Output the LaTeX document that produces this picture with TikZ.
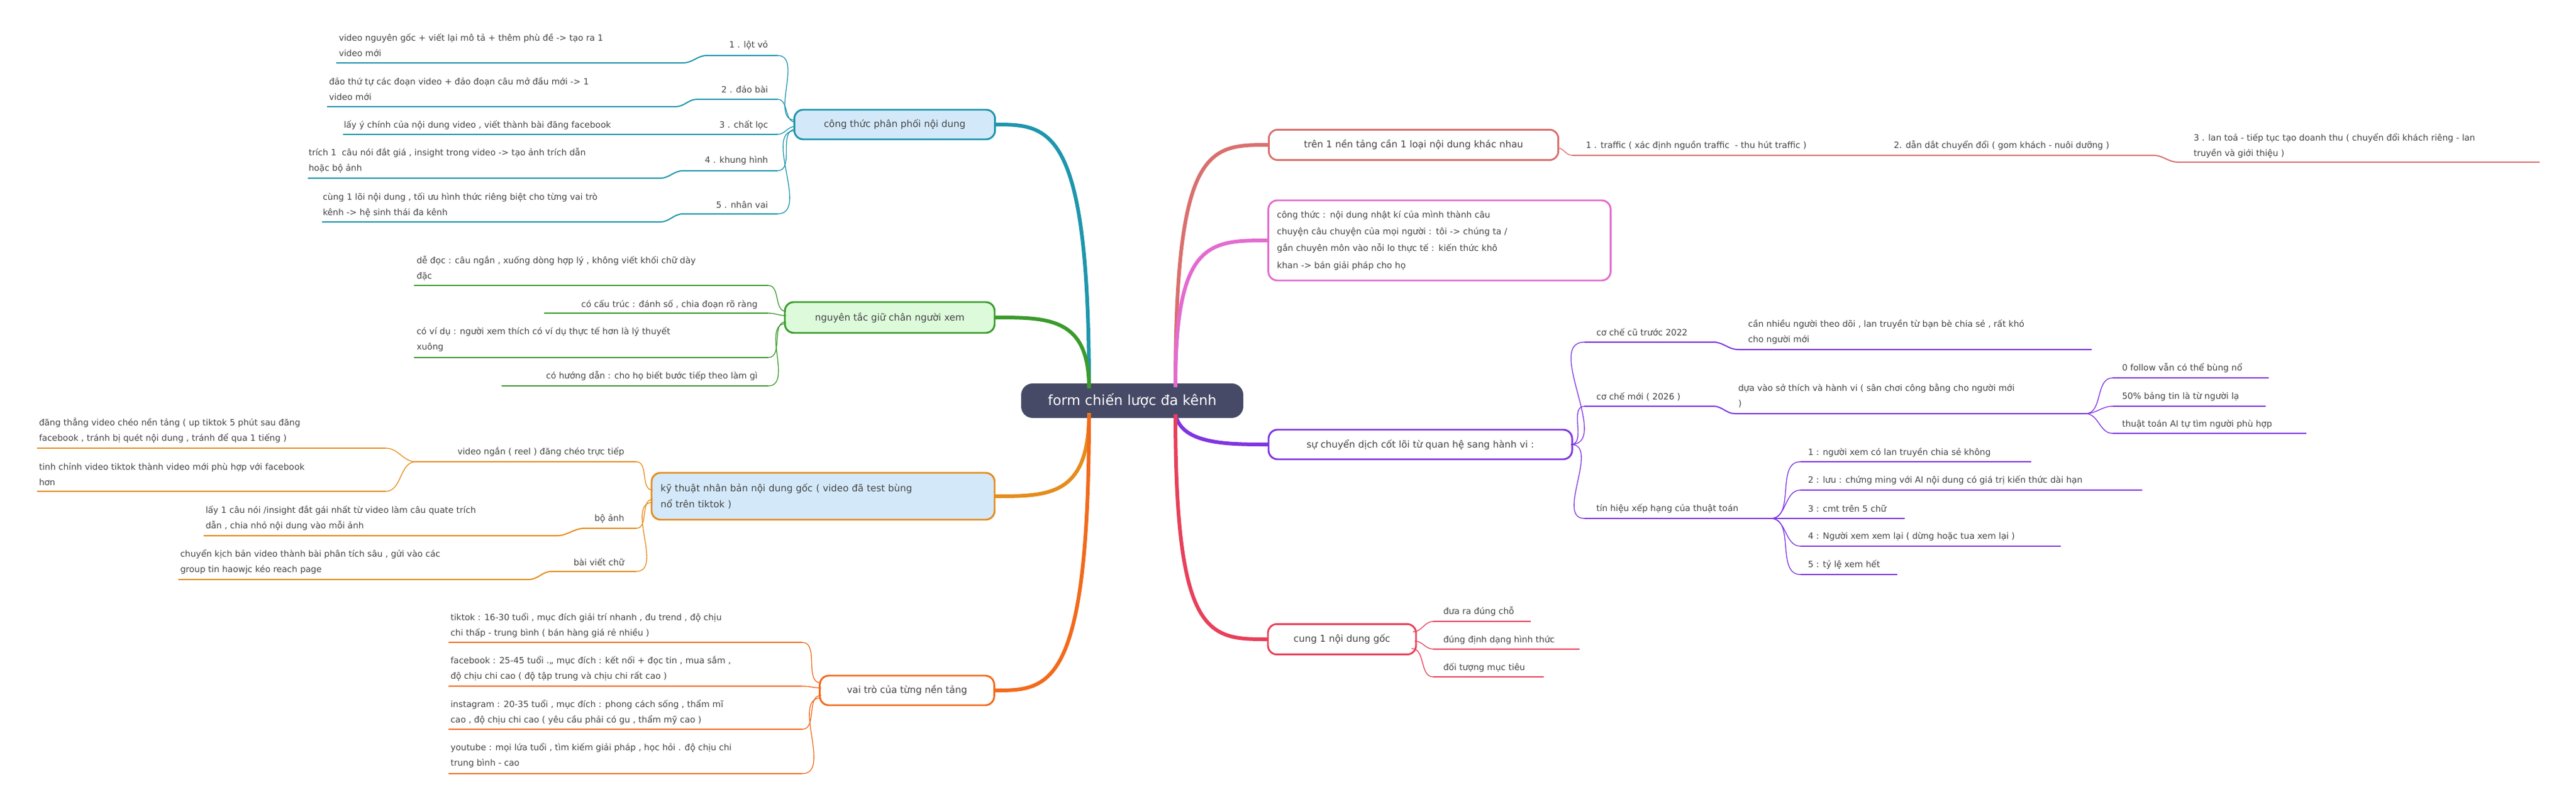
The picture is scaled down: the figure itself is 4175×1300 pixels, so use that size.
\documentclass[tikz,border=0pt]{standalone}
\usepackage{fontspec}
\setmainfont{DejaVu Sans}
\definecolor{txt}{HTML}{444444}
\definecolor{ctr}{HTML}{474A66}
\definecolor{teal}{HTML}{1E96AC}
\definecolor{grn}{HTML}{3B9B2C}
\definecolor{org}{HTML}{E58C1C}
\definecolor{ored}{HTML}{F26A1C}
\definecolor{salm}{HTML}{D9706E}
\definecolor{pink}{HTML}{E36BD0}
\definecolor{purp}{HTML}{7F35E0}
\definecolor{red1}{HTML}{E8405A}
\definecolor{lblue}{HTML}{D3E9FA}
\definecolor{lgrn}{HTML}{DDFBDB}
\begin{document}
\begin{tikzpicture}[x=0.75pt,y=-0.75pt,
 lf/.style={inner sep=0pt,text=txt,align=left,font=\fontsize{10.5}{18.75}\selectfont},
 box/.style={draw,line width=2.2pt,rounded corners=11pt,text=txt,font=\fontsize{11.5}{19}\selectfont,inner sep=0pt,align=left},
 mc/.style={line width=4.5pt},
 ul/.style={line width=1.5pt},
 cv/.style={line width=1pt}]
\useasboundingbox (0,0) rectangle (4175,1300);
% central
\node[fill=ctr,rounded corners=14pt,minimum width=270pt,minimum height=42pt,text=white,font=\fontsize{17}{20}\selectfont,inner sep=0pt] (c) at (1835,650) {form chiến lược đa kênh};
% main connectors
\draw[mc,teal] (1765,628) .. controls (1765,202) and (1700,202) .. (1612,202);
\draw[mc,grn] (1765,630) .. controls (1765,515) and (1700,515) .. (1612,515);
\draw[mc,org] (1765,670) .. controls (1765,805) and (1700,805) .. (1612,805);
\draw[mc,ored] (1765,672) .. controls (1765,1120) and (1700,1120) .. (1612,1120);
\draw[mc,salm] (1905,628) .. controls (1905,235) and (1960,235) .. (2056,235);
\draw[mc,pink] (1905,628) .. controls (1905,390) and (1960,390) .. (2056,390);
\draw[mc,purp] (1905,672) .. controls (1915,721) and (1990,721) .. (2056,721);
\draw[mc,red1] (1905,672) .. controls (1905,1037) and (1960,1037) .. (2055,1037);
% boxes
\node[box,draw=teal,fill=lblue,minimum width=244pt,minimum height=36pt,align=center] (b1) at (1450,202) {công thức phân phối nội dung};
\node[box,draw=grn,fill=lgrn,minimum width=255pt,minimum height=37.5pt,align=center] (b2) at (1442,515) {nguyên tắc giữ chân người xem};
\node[box,draw=org,fill=lblue,minimum width=417pt,minimum height=57pt,text width=395pt] (b3) at (1334,805) {kỹ thuật nhân bản nội dung gốc ( video đã test bùng\\nổ trên tiktok )};
\node[box,draw=ored,fill=white,minimum width=212pt,minimum height=36pt,align=center] (b4) at (1470,1120) {vai trò của từng nền tảng};
\node[box,draw=salm,fill=white,minimum width=352pt,minimum height=37pt,align=center] (b5) at (2291,235) {trên 1 nền tảng cần 1 loại nội dung khác nhau};
\node[box,draw=pink,fill=white,minimum width=416pt,minimum height=97.5pt,text width=395pt,font=\fontsize{10.5}{20.5}\selectfont] (b6) at (2333,390) {công thức : nội dung nhật kí của mình thành câu\\chuyện câu chuyện của mọi người : tôi -> chúng ta /\\gắn chuyên môn vào nỗi lo thực tế : kiến thức khô\\khan -> bán giải pháp cho họ};
\node[box,draw=purp,fill=white,minimum width=369pt,minimum height=36pt,align=center] (b7) at (2302,721) {sự chuyển dịch cốt lõi từ quan hệ sang hành vi :};
\node[box,draw=red1,fill=white,minimum width=180pt,minimum height=37pt,align=center] (b8) at (2175,1037) {cung 1 nội dung gốc};

% ---- teal branch
\begin{scope}[teal]
\draw[cv] (1260,90) to[out=0,in=180] (1289,195);
\draw[cv] (1260,161) to[out=0,in=180] (1289,198);
\draw[cv] (1260,218) to[out=0,in=180] (1289,205);
\draw[cv] (1260,277) to[out=0,in=180] (1289,210);
\draw[cv] (1260,347) to[out=0,in=180] (1289,212);
\draw[ul] (1260,90) -- (1146,90) to[out=180,in=0] (1107,102) -- (545,102);
\draw[ul] (1260,161) -- (1130,161) to[out=180,in=0] (1095,173) -- (530,173);
\draw[ul] (1260,218) -- (556,218);
\draw[ul] (1260,277) -- (1107,277) to[out=180,in=0] (1070,289) -- (499,289);
\draw[ul] (1260,347) -- (1107,347) to[out=180,in=0] (1070,360) -- (522,360);
\end{scope}
\node[lf,anchor=east] (t1) at (1245,73) {1 . lột vỏ};
\node[lf,anchor=west] (t1a) at (549,73.5) {video nguyên gốc + viết lại mô tả + thêm phù đề -> tạo ra 1\\video mới};
\node[lf,anchor=east] (t2) at (1245,145) {2 . đảo bài};
\node[lf,anchor=west] (t2a) at (533,144.5) {đảo thứ tự các đoạn video + đảo đoạn câu mở đầu mới -> 1\\video mới};
\node[lf,anchor=east] (t3) at (1245,203) {3 . chất lọc};
\node[lf,anchor=west] (t3a) at (557,203) {lấy ý chính của nội dung video , viết thành bài đăng facebook};
\node[lf,anchor=east] (t4) at (1245,260) {4 . khung hình};
\node[lf,anchor=west] (t4a) at (500,260.5) {trích 1\ \ câu nói đắt giá , insight trong video -> tạo ảnh trích dẫn\\hoặc bộ ảnh};
\node[lf,anchor=east] (t5) at (1245,332) {5 . nhân vai};
\node[lf,anchor=west] (t5a) at (523,332.5) {cùng 1 lõi nội dung , tối ưu hình thức riêng biệt cho từng vai trò\\kênh -> hệ sinh thái đa kênh};

% ---- green branch
\begin{scope}[grn]
\draw[cv] (1245,463) to[out=0,in=180] (1274,505);
\draw[cv] (1245,508) to[out=0,in=180] (1274,512);
\draw[cv] (1245,580) to[out=0,in=180] (1274,522);
\draw[cv] (1245,626) to[out=0,in=180] (1274,525);
\draw[ul] (1245,463) -- (671,463);
\draw[ul] (1245,508) -- (882,508);
\draw[ul] (1245,580) -- (671,580);
\draw[ul] (1245,626) -- (813,626);
\end{scope}
\node[lf,anchor=west] (g1) at (675,435) {dễ đọc : câu ngắn , xuống dòng hợp lý , không viết khối chữ dày\\đặc};
\node[lf,anchor=east] (g2) at (1228,494) {có cấu trúc : đánh số , chia đoạn rõ ràng};
\node[lf,anchor=west] (g3) at (675,551) {có ví dụ : người xem thích có ví dụ thực tế hơn là lý thuyết\\xuông};
\node[lf,anchor=east] (g4) at (1228,610) {có hướng dẫn : cho họ biết bước tiếp theo làm gì};

% ---- orange branch
\begin{scope}[org]
\draw[cv] (1031,749) to[out=0,in=180] (1058,795);
\draw[cv] (1031,857) to[out=0,in=180] (1058,810);
\draw[cv] (1031,927) to[out=0,in=180] (1058,815);
\draw[ul] (1031,749) -- (674,749);
\draw[cv] (674,749) to[out=180,in=0] (625,727);
\draw[cv] (674,749) to[out=180,in=0] (625,797);
\draw[ul] (625,727) -- (60,727);
\draw[ul] (625,797) -- (60,797);
\draw[ul] (1031,857) -- (948,857) to[out=180,in=0] (902,869) -- (330,869);
\draw[ul] (1031,927) -- (894,927) to[out=180,in=0] (857,940) -- (289,940);
\end{scope}
\node[lf,anchor=east] (o1) at (1012,733) {video ngắn ( reel ) đăng chéo trực tiếp};
\node[lf,anchor=west] (o1a) at (63,698.5) {đăng thẳng video chéo nền tảng ( up tiktok 5 phút sau đăng\\facebook , tránh bị quét nội dung , tránh để qua 1 tiếng )};
\node[lf,anchor=west] (o1b) at (63,769.5) {tinh chỉnh video tiktok thành video mới phù hợp với facebook\\hơn};
\node[lf,anchor=east] (o2) at (1012,841) {bộ ảnh};
\node[lf,anchor=west] (o2a) at (333,840.5) {lấy 1 câu nói /insight đắt gái nhất từ video làm câu quate trích\\dẫn , chia nhỏ nội dung vào mỗi ảnh};
\node[lf,anchor=east] (o3) at (1012,912) {bài viết chữ};
\node[lf,anchor=west] (o3a) at (292,911.5) {chuyển kịch bản video thành bài phân tích sâu , gửi vào các\\group tin haowjc kéo reach page};

% ---- vai tro branch
\begin{scope}[ored]
\draw[cv] (1300,1042) to[out=0,in=180] (1331,1108);
\draw[cv] (1300,1113) to[out=0,in=180] (1331,1116);
\draw[cv] (1300,1183) to[out=0,in=180] (1331,1128);
\draw[cv] (1300,1255) to[out=0,in=180] (1331,1132);
\draw[ul] (1300,1042) -- (727,1042);
\draw[ul] (1300,1113) -- (727,1113);
\draw[ul] (1300,1183) -- (727,1183);
\draw[ul] (1300,1255) -- (727,1255);
\end{scope}
\node[lf,anchor=west] (v1) at (730,1014.5) {tiktok : 16-30 tuổi , mục đích giải trí nhanh , đu trend , độ chịu\\chi thấp - trung bình ( bán hàng giá rẻ nhiều )};
\node[lf,anchor=west] (v2) at (730,1084.5) {facebook : 25-45 tuổi .,, mục đích : kết nối + đọc tin , mua sắm ,\\độ chịu chi cao ( độ tập trung và chịu chi rất cao )};
\node[lf,anchor=west] (v3) at (730,1155.5) {instagram : 20-35 tuổi , mục đích : phong cách sống , thẩm mĩ\\cao , độ chịu chi cao ( yêu cầu phải có gu , thẩm mỹ cao )};
\node[lf,anchor=west] (v4) at (730,1225.5) {youtube : mọi lứa tuổi , tìm kiếm giải pháp , học hỏi . độ chịu chi\\trung bình - cao};

% ---- salmon branch
\begin{scope}[salm]
\draw[cv] (2524,240) to[out=0,in=180] (2548,252);
\draw[ul] (2548,252) -- (3490,252) to[out=0,in=180] (3530,263) -- (4116,263);
\end{scope}
\node[lf,anchor=west] (s1) at (2570,236) {1 . traffic ( xác định nguồn traffic\ \ - thu hút traffic )};
\node[lf,anchor=west] (s2) at (3069,236) {2. dẫn dắt chuyển đổi ( gom khách - nuôi dưỡng )};
\node[lf,anchor=west] (s3) at (3555,236) {3 . lan toả - tiếp tục tạo doanh thu ( chuyển đổi khách riêng - lan\\truyền và giới thiệu )};

% ---- purple branch
\begin{scope}[purp]
\draw[cv] (2546,721) to[out=0,in=180] (2568,555);
\draw[cv] (2546,721) to[out=0,in=180] (2568,659);
\draw[cv] (2546,721) to[out=0,in=180] (2568,841);
\draw[ul] (2568,555) -- (2777,555) to[out=0,in=180] (2817,567) -- (3390,567);
\draw[ul] (2568,659) -- (2777,659) to[out=0,in=180] (2812,671) -- (3380,671);
\draw[cv] (3380,671) to[out=0,in=180] (3424,613);
\draw[cv] (3380,671) to[out=0,in=180] (3424,659);
\draw[cv] (3380,671) to[out=0,in=180] (3424,703);
\draw[ul] (3424,613) -- (3677,613);
\draw[ul] (3424,659) -- (3672,659);
\draw[ul] (3424,703) -- (3738,703);
\draw[ul] (2568,841) -- (2870,841);
\foreach \yy/\xe in {749/3292,795/3472,841/3087,886/3340,932/3075}{
 \draw[cv] (2870,841) to[out=0,in=180] (2918,\yy);
 \draw[ul] (2918,\yy) -- (\xe,\yy);}
\end{scope}
\node[lf,anchor=west] (p1) at (2587,539) {cơ chế cũ trước 2022};
\node[lf,anchor=west] (p1a) at (2833,538.5) {cần nhiều người theo dõi , lan truyền từ bạn bè chia sẻ , rất khó\\cho người mới};
\node[lf,anchor=west] (p2) at (2587,643) {cơ chế mới ( 2026 )};
\node[lf,anchor=west] (p2a) at (2817,642) {dựa vào sở thích và hành vi ( sân chơi công bằng cho người mới\\)};
\node[lf,anchor=west] (p2b) at (3439,597) {0 follow vẫn có thể bùng nổ};
\node[lf,anchor=west] (p2c) at (3439,643) {50\% bảng tin là từ người lạ};
\node[lf,anchor=west] (p2d) at (3439,688) {thuật toán AI tự tìm người phù hợp};
\node[lf,anchor=west] (p3) at (2587,825) {tín hiệu xếp hạng của thuật toán};
\node[lf,anchor=west] (q1) at (2930,734) {1 : người xem có lan truyền chia sẻ không};
\node[lf,anchor=west] (q2) at (2930,779) {2 : lưu : chứng ming với AI nội dung có giá trị kiến thức dài hạn};
\node[lf,anchor=west] (q3) at (2930,825) {3 : cmt trên 5 chữ};
\node[lf,anchor=west] (q4) at (2930,870) {4 : Người xem xem lại ( dừng hoặc tua xem lại )};
\node[lf,anchor=west] (q5) at (2930,916) {5 : tỷ lệ xem hết};

% ---- red branch
\begin{scope}[red1]
\draw[cv] (2290,1025) to[out=0,in=180] (2323,1008);
\draw[cv] (2293,1040) to[out=0,in=180] (2323,1053);
\draw[cv] (2288,1052) to[out=0,in=180] (2323,1098);
\draw[ul] (2323,1008) -- (2481,1008);
\draw[ul] (2323,1053) -- (2560,1053);
\draw[ul] (2323,1098) -- (2502,1098);
\end{scope}
\node[lf,anchor=west] (r1) at (2339,992) {đưa ra đúng chỗ};
\node[lf,anchor=west] (r2) at (2339,1038) {đúng định dạng hình thức};
\node[lf,anchor=west] (r3) at (2339,1083) {đối tượng mục tiêu};
\end{tikzpicture}
\end{document}
